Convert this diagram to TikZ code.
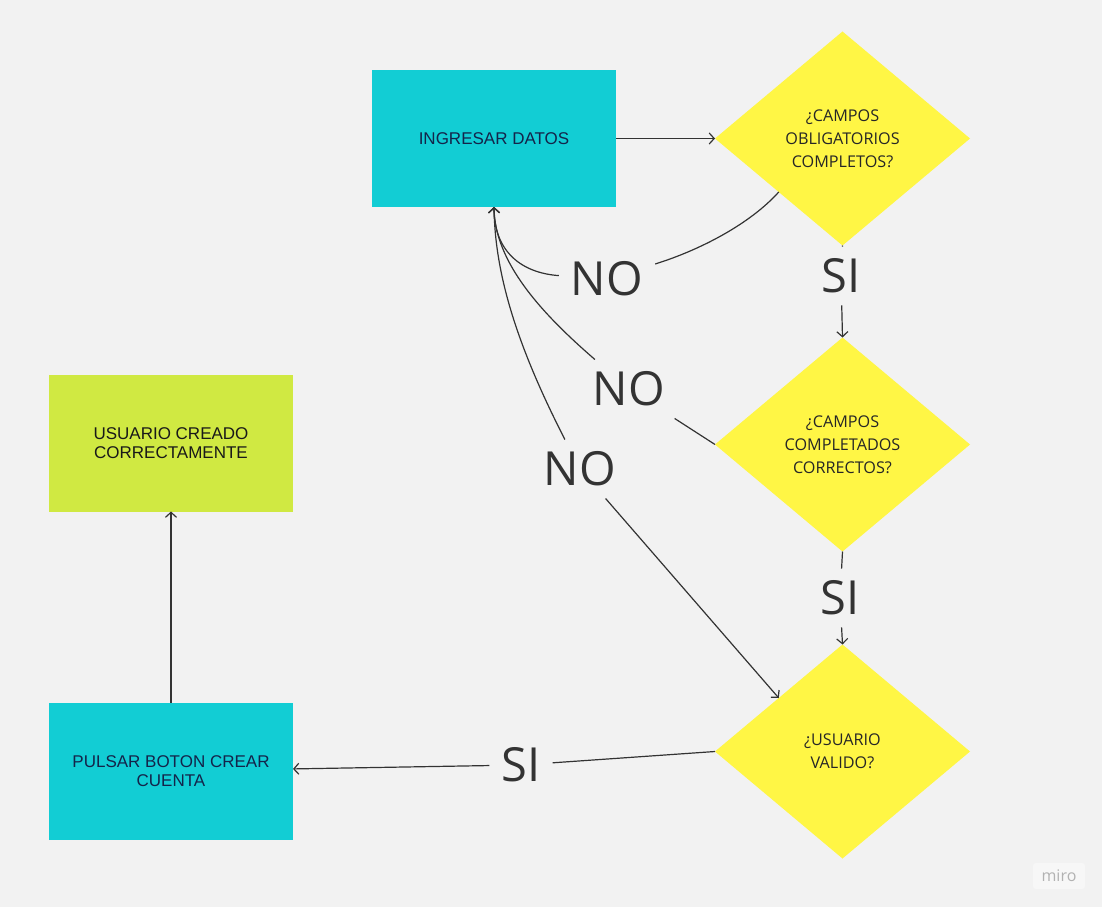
\documentclass[tikz,border=0pt]{standalone}
\usepackage{fontspec}
\setmainfont{Liberation Sans}
\newfontfamily\opensans{Open Sans}
\usetikzlibrary{shapes.geometric,positioning,arrows.meta}
\definecolor{fondo}{HTML}{F2F2F2}
\definecolor{cian}{HTML}{12CDD4}
\definecolor{lima}{HTML}{D0E942}
\definecolor{amarillo}{HTML}{FFF645}
\definecolor{linea}{HTML}{333333}
\definecolor{marino}{HTML}{14244A}

\begin{document}
\begin{tikzpicture}[x=1pt,y=-1pt,
    caja/.style={rectangle, minimum width=244pt, minimum height=137pt,
        align=center, inner sep=0, outer sep=0,
        font=\fontsize{17}{19}\selectfont},
    decision/.style={diamond, fill=amarillo, minimum width=255pt,
        minimum height=214pt, align=center, inner sep=0, outer sep=0,
        text=black!85, font=\opensans\fontsize{16.2}{23}\selectfont},
    etiqueta/.style={text=linea, inner sep=12pt,
        font=\opensans\fontsize{47}{47}\selectfont},
    conector/.style={draw=linea, line width=1.2pt},
    flecha/.style={-{Straight Barb[length=5pt,width=11pt]}}
]
% background
\fill[fondo] (0,0) rectangle (1102,907);

% Ingresar datos
\node[caja,
    fill=cian,
    text=marino
    ] (datos) at (494,138.5) {INGRESAR DATOS};

% Decisions
\node[decision,
    right= 99pt of datos
    ] (oblig) {¿CAMPOS\\OBLIGATORIOS\\COMPLETOS?};

\node[decision,
    below= 92pt of oblig
    ] (correctos) {¿CAMPOS\\COMPLETADOS\\CORRECTOS?};

\node[decision,
    below= 93pt of correctos
    ] (valido) {¿USUARIO\\VALIDO?};

% Crear cuenta
\node[caja,
    fill=cian,
    text=marino
    ] (pulsar) at (171,771) {PULSAR BOTON CREAR\\CUENTA};

% Usuario creado
\node[caja,
    fill=lima,
    text=black!90,
    above= 191pt of pulsar
    ] (creado) {USUARIO CREADO\\CORRECTAMENTE};

% Labels
\node[etiqueta] (no1) at (607,279) {NO};
\node[etiqueta] (no2) at (629,389) {NO};
\node[etiqueta] (no3) at (580,469) {NO};
\node[etiqueta] (si1) at (841,276) {SI};
\node[etiqueta] (si2) at (840,598) {SI};
\node[etiqueta] (si3) at (521,765) {SI};

% miro mark
\node[fill=white!40!fondo, text=black!30, rounded corners=3pt,
    minimum width=52pt, minimum height=26pt,
    font=\opensans\fontsize{16}{16}\selectfont] (miro) at (1059,876) {miro};

% Arrows
\draw[conector,flecha] (datos) -- (oblig);
\draw[conector] (oblig.south) -- (si1);
\draw[conector,flecha] (si1) -- (correctos.north);
\draw[conector] (correctos.south) -- (si2);
\draw[conector,flecha] (si2) -- (valido.north);
\draw[conector] (valido.west) -- (si3);
\draw[conector,flecha] (si3) -- (pulsar);
\draw[conector,flecha] (pulsar) -- (creado);

% NO branches back to datos
\draw[conector] (oblig.south west) .. controls (750,224) and (700,250) .. (no1);
\draw[conector,flecha] (no1) .. controls (522,273) and (494,252) .. (datos.south);
\draw[conector] (correctos.west) -- (no2);
\draw[conector,flecha] (no2) .. controls (540,312) and (495,262) .. (datos.south);
\draw[conector,flecha] (no3) .. controls (515,342) and (495,272) .. (datos.south);
\draw[conector,flecha] (no3) -- (valido.north west);

\end{tikzpicture}
\end{document}
